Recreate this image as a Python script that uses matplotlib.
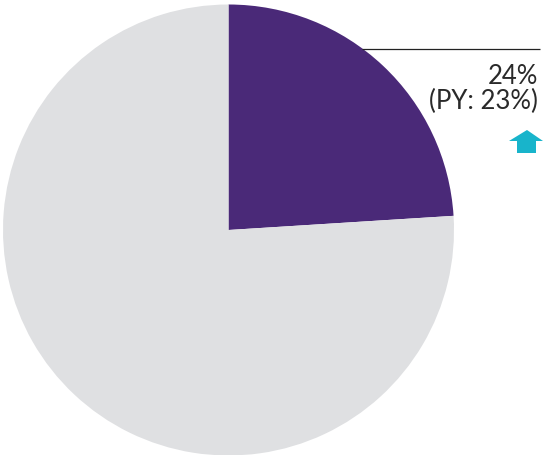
import matplotlib
matplotlib.use("Agg")
import matplotlib.pyplot as plt
from matplotlib.patches import Polygon

# Share of the total (current year) and the prior-year comparison
labels = ["Share", "Rest"]
values = [24, 76]
prior_year = 23
colors = ["#4a2978", "#dfe0e2"]

W, H = 545, 455
fig = plt.figure(figsize=(W / 100, H / 100), dpi=100)
ax = fig.add_axes([0, 0, 1, 1])
ax.set_xlim(0, W)
ax.set_ylim(0, H)
ax.set_aspect("equal")
ax.axis("off")

ax.pie(values, colors=colors, startangle=90, counterclock=False,
       center=(228.5, H - 230), radius=225.5,
       wedgeprops=dict(linewidth=0, antialiased=True))
ax.set_xlim(0, W)
ax.set_ylim(0, H)

# Callout line and value text
ax.plot([362, 540], [H - 49, H - 49], color="#222222", lw=0.9, solid_capstyle="butt")
ax.text(538, H - 77, f"{values[0]}%", ha="right", va="center",
        fontsize=18.5, family="Lato", fontweight="normal", color="#2a2a2a")
ax.text(538, H - 101, f"(PY: {prior_year}%)", ha="right", va="center",
        fontsize=18.5, family="Lato", fontweight="normal", color="#2a2a2a")

# Up arrow: current share above prior year
pts = [(527, 130), (543, 141), (536, 141), (536, 153), (517, 153), (517, 141), (509, 141)]
ax.add_patch(Polygon([(x, H - y) for x, y in pts], closed=True,
                     facecolor="#18b4cb", edgecolor="none"))

fig.savefig("out.png", dpi=100)
